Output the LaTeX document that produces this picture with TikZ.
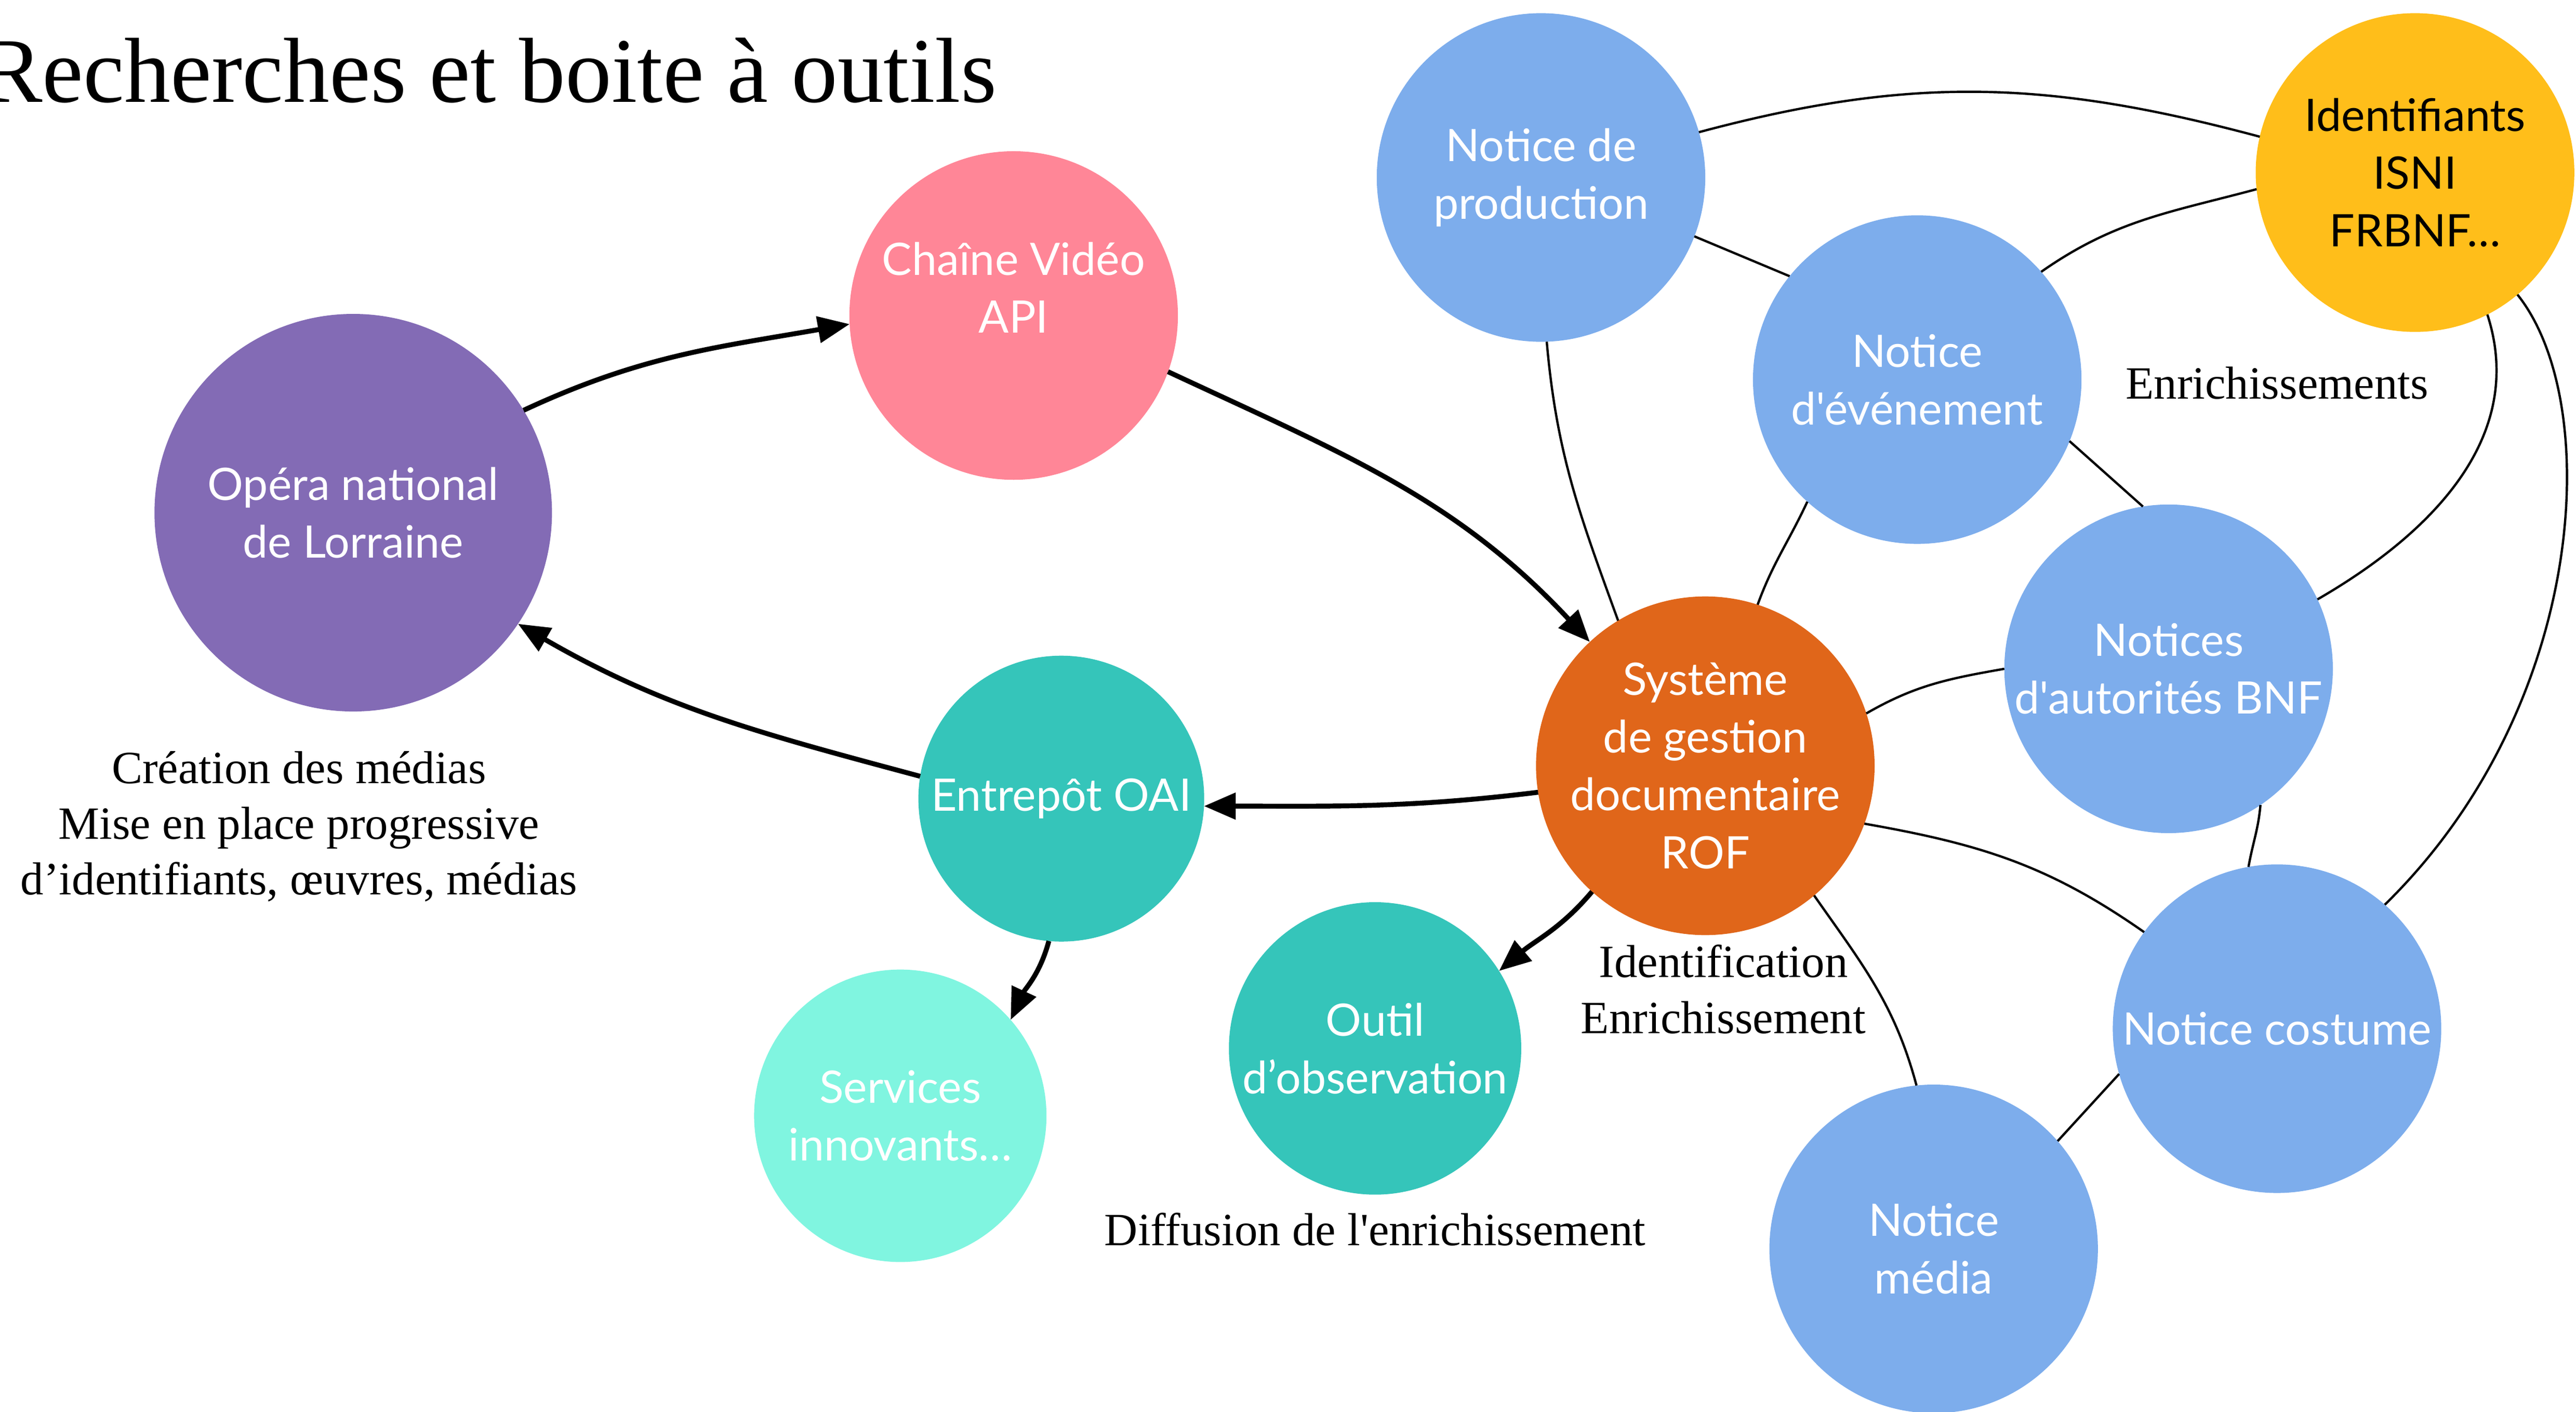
\documentclass[tikz,border=0pt]{standalone}
\usepackage{fontspec}
\setmainfont{Liberation Serif}
\newfontfamily\serif{Liberation Serif}
\newfontfamily\lato{Lato}
\usetikzlibrary{arrows.meta}
\definecolor{cpurple}{HTML}{836BB5}
\definecolor{cpink}{HTML}{FF8697}
\definecolor{cblue}{HTML}{7DADEC}
\definecolor{cyellow}{HTML}{FFBE1A}
\definecolor{corange}{HTML}{E0661A}
\definecolor{cteal}{HTML}{35C5BA}
\definecolor{clteal}{HTML}{80F5E0}
\begin{document}
\begin{tikzpicture}[x=0.02cm,y=0.02cm,
  circ/.style={circle, inner sep=0pt, outer sep=0pt, align=center,
    font=\lato\fontsize{15.5}{20}\selectfont, text=white},
  ctext/.style={inner sep=0pt, align=center, font=\lato\fontsize{15.5}{20}\selectfont, text=white},
  note/.style={inner sep=0pt, align=center, font=\serif\fontsize{16}{19.3}\selectfont},
  arr/.style={line width=1.7pt, -{Triangle[length=11pt,width=9pt]}},
  lnk/.style={line width=0.8pt}]
\useasboundingbox (0,0) rectangle (1568,-859);

% title
\node[anchor=base west, inner sep=0pt, font=\serif\fontsize{32}{38}\selectfont] (title) at (-12,-62) {Recherches et boite à outils};

% circles
\node[circ, fill=cpurple, minimum size=4.84cm] (opera) at (215,-312) {Opéra national\\de Lorraine};
\node[circ, fill=cpink, minimum size=4cm] (chaine) at (617,-192) {};
\node[ctext] (chaineT) at (617,-175) {Chaîne Vidéo\\API};
\node[circ, fill=cblue, minimum size=4cm] (prod) at (938,-108) {Notice de\\production};
\node[circ, fill=cyellow, minimum size=3.88cm, text=black] (ident) at (1470,-105) {Identifiants\\ISNI\\FRBNF…};
\node[circ, fill=cblue, minimum size=4cm] (event) at (1167,-231) {Notice\\d'événement};
\node[circ, fill=cblue, minimum size=4cm] (bnf) at (1320,-407) {Notices\\d'autorités BNF};
\node[circ, fill=corange, minimum size=3.92cm] (sys) at (1038,-466) {Système\\de gestion\\documentaire\\ROF};
\node[circ, fill=cteal, minimum size=3.48cm] (oai) at (646,-486) {Entrepôt OAI};
\node[circ, fill=clteal, minimum size=3.56cm] (serv) at (548,-679) {Services\\innovants…};
\node[circ, fill=cteal, minimum size=3.56cm] (outil) at (837,-638) {Outil\\d’observation};
\node[circ, fill=cblue, minimum size=4cm] (costume) at (1386,-626) {Notice costume};
\node[circ, fill=cblue, minimum size=4cm] (media) at (1177,-760) {Notice\\média};

% notes
\node[note] (n1) at (182,-503) {Création des médias\\Mise en place progressive\\d’identifiants, œuvres, médias};
\node[note] (n2) at (1386,-233) {Enrichissements};
\node[note] (n3) at (1049,-602) {Identification\\Enrichissement};
\node[note] (n4) at (837,-748) {Diffusion de l'enrichissement};

% thick arrows
\draw[arr] (opera.31) to[out=25,in=190] (chaine.183);
\draw[arr] (chaine.-20) to[out=-25,in=133] (sys.133);
\draw[arr] (sys.189) to[out=187,in=0] (oai.-3);
\draw[arr] (oai.171) to[out=165,in=-30] (opera.-34);
\draw[arr] (oai.-95) to[out=-105,in=65] (serv.41);
\draw[arr] (sys.228) to[out=-130,in=40] (outil.32);

% thin links
\draw[lnk] (prod.16) to[out=15,in=165] (ident.167);
\draw[lnk] (prod.-21) -- (event.141);
\draw[lnk] (prod.-88) to[out=-85,in=110] (sys.121);
\draw[lnk] (event.41) to[out=35,in=195] (ident.186);
\draw[lnk] (event.228) to[out=-115,in=70] (sys.72);
\draw[lnk] (event.-22) -- (bnf.99);
\draw[lnk] (ident.-63) to[out=-72,in=30] (bnf.25);
\draw[lnk] (ident.-50) .. controls (1585,-245) and (1575,-430) .. (costume.49);
\draw[lnk] (sys.18) to[out=30,in=190] (bnf.180);
\draw[lnk] (sys.-20) to[out=-10,in=145] (costume.144);
\draw[lnk] (sys.-50) to[out=-55,in=105] (media.96);
\draw[lnk] (bnf.-56) to[out=-95,in=80] (costume.100);
\draw[lnk] (costume.196) -- (media.41);
\end{tikzpicture}
\end{document}
